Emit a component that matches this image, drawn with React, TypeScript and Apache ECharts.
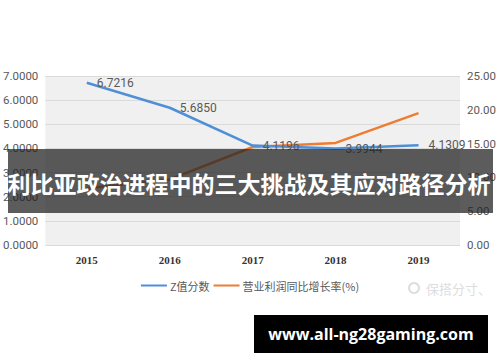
import React, { useEffect, useRef } from "react";
import * as echarts from "echarts";

const categories = ["2015", "2016", "2017", "2018", "2019"];
const zScores = [6.7216, 5.685, 4.1196, 3.9944, 4.1309];
const profitGrowth = [8.4, 9.7, 14.5, 15.1, 19.5];
const leftTicks = { min: 0, max: 7, interval: 1 };
const rightTicks = { min: 0, max: 25, interval: 5 };
const titleText = "利比亚政治进程中的三大挑战及其应对路径分析";
const siteText = "www.all-ng28gaming.com";
const watermarkText = "保搭分寸、";

export default function App() {
  const ref = useRef<HTMLDivElement>(null);
  useEffect(() => {
    if (!ref.current) return;
    const chart = echarts.init(ref.current, null, { renderer: "svg" });
    const labelFont = "Roboto, 'Liberation Sans', sans-serif";
    chart.setOption({
      animation: false,
      backgroundColor: "#ffffff",
      grid: {
        left: 45,
        right: 40,
        top: 76,
        bottom: 117,
        show: true,
        backgroundColor: "#f0f0f0",
        borderWidth: 0,
      },
      legend: {
        bottom: 66,
        left: "center",
        itemWidth: 26,
        itemHeight: 2,
        itemGap: 4,
        icon: "rect",
        textStyle: { color: "#595959", fontSize: 11, fontFamily: "'Noto Sans CJK SC', sans-serif", padding: [0, 0, 0, -2] },
        data: ["Z值分数", "营业利润同比增长率(%)"],
      },
      xAxis: {
        type: "category",
        data: categories,
        boundaryGap: true,
        axisLine: { show: false },
        axisTick: { show: false },
        axisLabel: {
          color: "#333333",
          fontSize: 11,
          fontWeight: "bold",
          fontFamily: "'Liberation Serif', serif",
          margin: 9,
        },
      },
      yAxis: [
        {
          type: "value",
          min: leftTicks.min,
          max: leftTicks.max,
          interval: leftTicks.interval,
          axisLine: { show: false },
          axisTick: { show: false },
          splitLine: { lineStyle: { color: "#dadada", width: 1 } },
          axisLabel: {
            color: "#595959",
            fontSize: 11.5,
            fontFamily: labelFont,
            margin: 7,
            formatter: (v: number) => v.toFixed(4),
          },
        },
        {
          type: "value",
          min: rightTicks.min,
          max: rightTicks.max,
          interval: rightTicks.interval,
          axisLine: { show: false },
          axisTick: { show: false },
          splitLine: { show: false },
          axisLabel: {
            color: "#595959",
            fontSize: 11.5,
            fontFamily: labelFont,
            margin: 7,
            formatter: (v: number) => v.toFixed(2),
          },
        },
      ],
      series: [
        {
          name: "Z值分数",
          type: "line",
          yAxisIndex: 0,
          data: zScores,
          symbol: "circle",
          symbolSize: 0,
          showSymbol: true,
          lineStyle: { color: "#4f8fd8", width: 2.5 },
          itemStyle: { color: "#4f8fd8" },
          label: {
            show: true,
            position: "right",
            distance: 10,
            color: "#595959",
            fontSize: 12,
            fontFamily: labelFont,
            formatter: (p: any) => p.value.toFixed(4),
          },
          z: 3,
        },
        {
          name: "营业利润同比增长率(%)",
          type: "line",
          yAxisIndex: 1,
          data: profitGrowth,
          symbol: "none",
          lineStyle: { color: "#ed7d31", width: 2.5 },
          itemStyle: { color: "#ed7d31" },
          z: 2,
        },
      ],
      graphic: [
        {
          type: "rect",
          z: 100,
          shape: { x: 8, y: 149, width: 485, height: 64 },
          style: { fill: "rgba(35,35,35,0.74)" },
        },
        {
          type: "text",
          z: 101,
          x: 249,
          y: 183,
          style: {
            text: titleText,
            fill: "#ffffff",
            fontSize: 23,
            fontWeight: "bold",
            fontFamily: "'Noto Sans CJK SC', sans-serif",
            align: "center",
            verticalAlign: "middle",
          },
        },
        {
          type: "rect",
          z: 100,
          shape: { x: 254, y: 315, width: 234, height: 38 },
          style: { fill: "#000000" },
        },
        {
          type: "text",
          z: 101,
          x: 371,
          y: 334,
          style: {
            text: siteText,
            fill: "#ffffff",
            fontSize: 16,
            fontWeight: "bold",
            fontFamily: "'Open Sans', sans-serif",
            align: "center",
            verticalAlign: "middle",
          },
        },
        {
          type: "ring",
          z: 100,
          shape: { cx: 414, cy: 288, r: 6, r0: 4 },
          style: { fill: "#dddddd" },
        },
        {
          type: "text",
          z: 100,
          x: 426,
          y: 288,
          style: {
            text: watermarkText,
            fill: "#dddddd",
            fontSize: 13,
            fontFamily: "'Noto Sans CJK SC', sans-serif",
            align: "left",
            verticalAlign: "middle",
          },
        },
      ],
    });
    return () => chart.dispose();
  }, []);
  return (
    <div
      ref={ref}
      style={{ position: "absolute", left: 0, top: 0, width: 500, height: 362 }}
    />
  );
}
